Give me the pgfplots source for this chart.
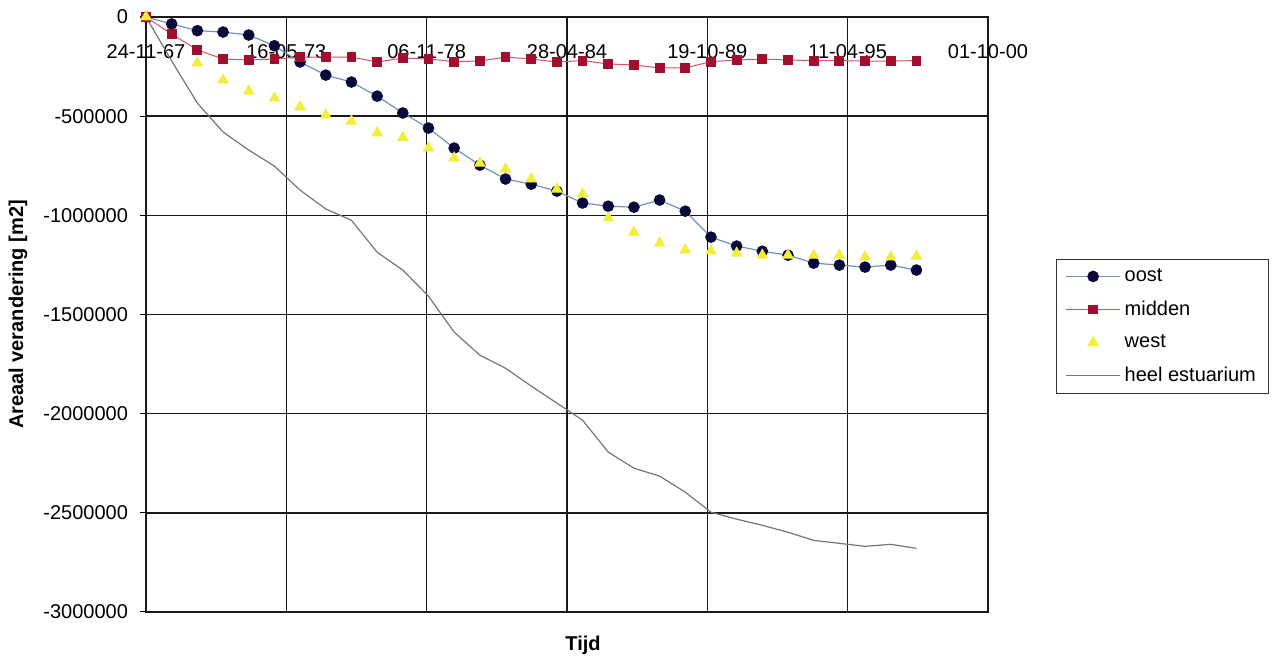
\documentclass[border=0pt]{standalone}
\usepackage{pgfplots}
\usepackage{pgfplotstable}
\pgfplotsset{compat=1.18}
\usepackage{fontspec}
\setmainfont{Liberation Sans}
\definecolor{oostline}{HTML}{6F93B8}
\definecolor{oostmark}{HTML}{0A0A3A}
\definecolor{midline}{HTML}{D8506A}
\definecolor{midmark}{HTML}{A0102E}
\definecolor{westmark}{HTML}{F2EE3A}
\definecolor{heelline}{HTML}{757575}
\pgfplotsset{mylegend/.style={legend image code/.code={\draw[mark repeat=2,mark phase=2,##1] plot coordinates {(0pt,0pt)(13.5pt,0pt)(27pt,0pt)};}}}
\begin{document}
\begin{tikzpicture}
\pgfplotstableread{
x oost midden west heel
24800 0 0 0 0
25166 -35000 -86000 nan -222000
25532 -69000 -166000 -232000 -434000
25898 -76000 -212000 -318000 -580000
26264 -91000 -217000 -374000 -671000
26630 -145000 -212000 -409000 -752000
26996 -227000 -202000 -454000 -873000
27362 -293000 -202000 -494000 -968000
27728 -328000 -202000 -525000 -1025000
28094 -399000 -227000 -585000 -1186000
28460 -484000 -207000 -608000 -1276000
28826 -560000 -212000 -661000 -1408000
29192 -661000 -225000 -711000 -1589000
29558 -747000 -222000 -737000 -1705000
29924 -817000 -202000 -767000 -1771000
30290 -843000 -212000 -817000 -1861000
30656 -878000 -227000 -868000 -1947000
31022 -938000 -220000 -893000 -2033000
31388 -954000 -237000 -1014000 -2194000
31754 -959000 -242000 -1085000 -2275000
32120 -923000 -257000 -1140000 -2315000
32486 -979000 -257000 -1175000 -2396000
32852 -1110000 -225000 -1180000 -2497000
33218 -1155000 -217000 -1191000 -2532000
33584 -1181000 -212000 -1201000 -2563000
33950 -1201000 -217000 -1201000 -2598000
34316 -1241000 -220000 -1201000 -2639000
34682 -1251000 -220000 -1201000 -2654000
35048 -1261000 -222000 -1210000 -2669000
35414 -1251000 -222000 -1210000 -2659000
35780 -1276000 -220000 -1206000 -2679000
}\data
\begin{axis}[
  scale only axis, width=421pt, height=297.5pt,
  xmin=24800, xmax=36800, ymin=-3000000, ymax=0,
  font=\fontsize{10}{12}\selectfont,
  scaled x ticks=false, scaled y ticks=false,
  xtick={24800,26800,28800,30800,32800,34800,36800},
  xticklabels={24-11-67,16-05-73,06-11-78,28-04-84,19-10-89,11-04-95,01-10-00},
  ytick={-3000000,-2500000,-2000000,-1500000,-1000000,-500000,0},
  yticklabels={-3000000,-2500000,-2000000,-1500000,-1000000,-500000,0},
  xticklabel pos=upper,
  ytick pos=left,
  x tick label style={anchor=center, yshift=-20.5pt},
  y tick label style={xshift=-2.5pt},
  xtick style={draw=none},
  ytick style={line width=0.5pt, black},
  tick align=outside, major tick length=3pt,
  grid=major, major grid style={draw=black!90, line width=0.75pt},
  axis line style={line width=0.75pt, black!90},
  ylabel={\bfseries Areaal verandering [m2]},
  ylabel style={at={(rel axis cs:-0.152,0.5)}, anchor=center},
  xlabel={\bfseries Tijd},
  xlabel style={at={(rel axis cs:0.519,-0.0555)}, anchor=center},
  legend style={at={(1.0808,0.5933)}, anchor=north west, draw=black!80, line width=0.5pt,
    font=\fontsize{10}{12}\selectfont, cells={anchor=west}, row sep=4.2pt, inner xsep=4.5pt, inner ysep=2.5pt},
  clip=false,
]
\addplot[color=oostline, line width=0.6pt, mark=*, mark size=2.6pt, mark options={fill=oostmark, draw=oostmark}, mylegend] table[x=x,y=oost]{\data};
\addlegendentry{oost}
\addplot[color=midline, line width=0.5pt, mark=square*, mark size=2.2pt, mark options={fill=midmark, draw=midmark}, mylegend] table[x=x,y=midden]{\data};
\addlegendentry{midden}
\addplot[only marks, mark=triangle*, mark size=3pt, mark options={fill=westmark, draw=westmark}, mylegend] table[x=x,y=west]{\data};
\addlegendentry{west}
\addplot[color=heelline, line width=0.6pt, no marks, mylegend] table[x=x,y=heel]{\data};
\addlegendentry{heel estuarium}
\coordinate (BL) at (rel axis cs:-0.1734,-0.08067);
\coordinate (TR) at (rel axis cs:1.3373,1.02857);
\end{axis}
\path (BL) rectangle (TR);
\end{tikzpicture}
\end{document}
